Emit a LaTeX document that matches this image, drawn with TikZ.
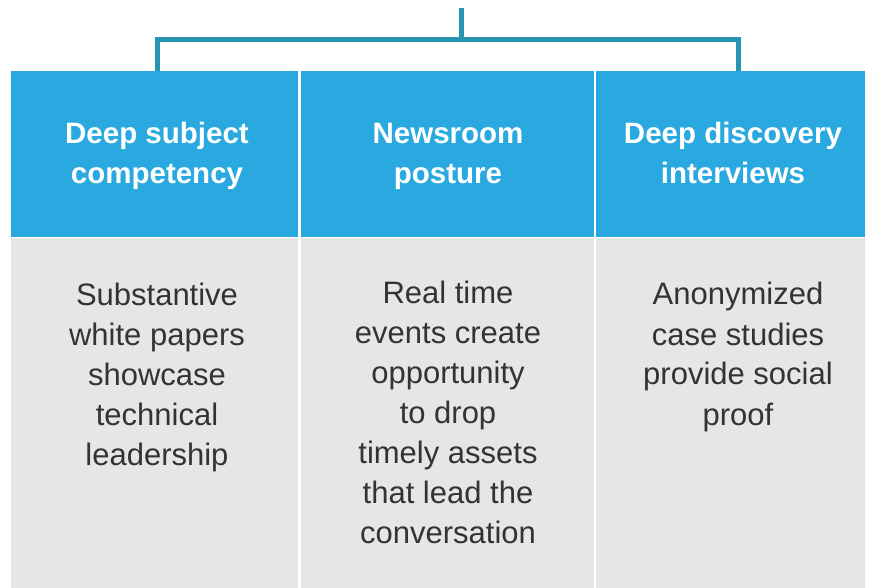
\documentclass[tikz,border=0pt]{standalone}
\usepackage{fontspec}
\setmainfont{Liberation Sans}
\definecolor{hdr}{HTML}{29A9E0}
\definecolor{bodybg}{HTML}{E6E6E8}
\definecolor{conn}{HTML}{2894B0}
\definecolor{txt}{HTML}{333333}
\begin{document}
\begin{tikzpicture}[x=1pt,y=-1pt,
  hdrbox/.style={fill=hdr,draw=none},
  bodybox/.style={fill=bodybg,draw=none},
  hdrtext/.style={text=white,font=\fontsize{29.5}{40}\selectfont\bfseries,align=center},
  bodytext/.style={text=txt,font=\fontsize{31}{40}\selectfont,align=center,anchor=north},
  connector/.style={draw=conn,line width=5pt}]
\useasboundingbox (0,0) rectangle (869,588);
% header boxes
\fill[hdr] (11,71) rectangle (297.5,236.7);
\fill[hdr] (300.5,71) rectangle (593.5,236.7);
\fill[hdr] (595.7,71) rectangle (865,236.7);
% body boxes
\fill[bodybg] (11,237.8) rectangle (297.5,588);
\fill[bodybg] (300.5,237.8) rectangle (593.5,588);
\fill[bodybg] (595.7,237.8) rectangle (865,588);
% connector
\coordinate (top) at (461,8);
\coordinate (mid) at (461,39.5);
\coordinate (l) at (157,71);
\coordinate (r) at (738,71);
\draw[connector] (top) -- (mid);
\draw[connector,line join=miter] (l) |- (mid) -| (r);
% headers
\node[hdrtext] (h1) at (157,156) {Deep subject\\competency};
\node[hdrtext] (h2) at (448,156) {Newsroom\\posture};
\node[hdrtext] (h3) at (733,153) {Deep discovery\\interviews};
% bodies
\node[bodytext] (b1) at (157,279) {Substantive\\white papers\\showcase\\technical\\leadership};
\node[bodytext] (b2) at (448,277) {Real time\\events create\\opportunity\\to drop\\timely assets\\that lead the\\conversation};
\node[bodytext] (b3) at (738,279) {Anonymized\\case studies\\provide social\\proof};
\end{tikzpicture}
\end{document}
